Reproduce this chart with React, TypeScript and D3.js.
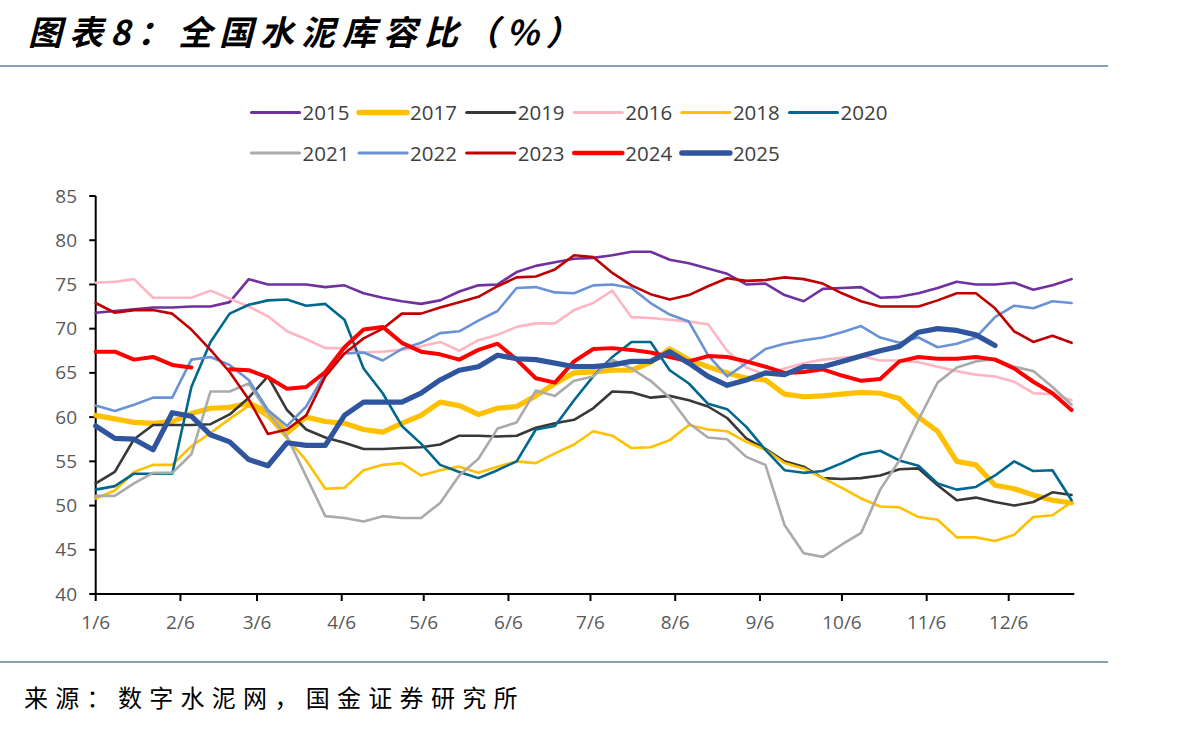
import React from "react";
import * as d3 from "d3";

// Weekly cement warehouse capacity ratio (%), one series per year
const v2015 = [71.8, 72.0, 72.2, 72.4, 72.4, 72.5, 72.5, 73.0, 75.6, 75.0, 75.0, 75.0, 74.7, 74.9, 74.0, 73.5, 73.1, 72.8, 73.2, 74.2, 74.9, 75.0, 76.4, 77.1, 77.5, 77.9, 78.0, 78.3, 78.7, 78.7, 77.8, 77.4, 76.8, 76.2, 75.0, 75.1, 73.8, 73.1, 74.5, 74.6, 74.7, 73.5, 73.6, 74.0, 74.6, 75.3, 75.0, 75.0, 75.2, 74.4, 74.9, 75.6];
const v2017 = [60.2, 59.8, 59.4, 59.3, 59.5, 60.4, 61.0, 61.1, 61.6, 60.6, 58.2, 60.0, 59.5, 59.3, 58.6, 58.3, 59.3, 60.2, 61.7, 61.3, 60.3, 61.0, 61.2, 62.4, 63.8, 65.0, 65.1, 65.3, 65.3, 66.2, 67.7, 66.5, 65.7, 65.0, 64.4, 64.2, 62.6, 62.3, 62.4, 62.6, 62.8, 62.7, 62.1, 60.0, 58.4, 55.0, 54.6, 52.3, 51.9, 51.2, 50.6, 50.3];
const v2019 = [52.5, 53.8, 57.5, 59.1, 59.1, 59.1, 59.2, 60.3, 62.2, 64.6, 60.8, 58.6, 57.7, 57.1, 56.4, 56.4, 56.5, 56.6, 56.9, 57.9, 57.9, 57.8, 57.9, 58.8, 59.3, 59.7, 61.0, 62.9, 62.8, 62.2, 62.4, 61.9, 61.2, 59.9, 57.6, 56.4, 55.0, 54.4, 53.1, 53.0, 53.1, 53.4, 54.1, 54.2, 52.3, 50.6, 50.9, 50.4, 50.0, 50.4, 51.5, 51.2];
const v2016 = [75.2, 75.3, 75.6, 73.5, 73.5, 73.5, 74.3, 73.4, 72.5, 71.4, 69.7, 68.8, 67.8, 67.8, 67.3, 67.4, 67.6, 68.0, 68.5, 67.5, 68.7, 69.3, 70.2, 70.6, 70.6, 72.1, 72.9, 74.3, 71.3, 71.2, 71.0, 70.8, 70.5, 67.5, 65.6, 64.8, 65.5, 66.1, 66.5, 66.7, 66.9, 66.4, 66.4, 66.2, 65.7, 65.2, 64.8, 64.6, 64.0, 62.7, 62.6, 61.9];
const v2018 = [50.8, 51.7, 53.8, 54.6, 54.6, 56.7, 58.2, 59.8, 61.3, 60.0, 57.6, 55.1, 51.9, 52.0, 54.0, 54.6, 54.8, 53.4, 54.0, 54.4, 53.7, 54.4, 55.0, 54.8, 55.9, 56.9, 58.4, 57.9, 56.5, 56.6, 57.4, 59.1, 58.6, 58.4, 57.2, 56.3, 54.8, 54.2, 53.1, 52.0, 50.8, 49.9, 49.8, 48.7, 48.4, 46.4, 46.4, 46.0, 46.7, 48.7, 48.9, 50.4];
const v2020 = [51.8, 52.2, 53.6, 53.6, 53.6, 63.4, 68.5, 71.7, 72.7, 73.2, 73.3, 72.6, 72.8, 71.0, 65.5, 62.7, 59.0, 57.0, 54.6, 53.8, 53.1, 54.0, 55.0, 58.6, 59.0, 61.9, 64.6, 66.8, 68.5, 68.5, 65.3, 63.8, 61.5, 60.9, 58.9, 56.3, 54.0, 53.7, 53.9, 54.8, 55.8, 56.2, 55.1, 54.5, 52.5, 51.8, 52.1, 53.4, 55.0, 53.9, 54.0, 50.6];
const v2021 = [51.1, 51.1, 52.5, 53.7, 53.7, 55.8, 62.9, 62.9, 63.8, 60.5, 57.8, 53.3, 48.8, 48.6, 48.2, 48.8, 48.6, 48.6, 50.3, 53.4, 55.3, 58.7, 59.4, 63.0, 62.4, 64.1, 64.6, 66.5, 65.5, 64.1, 62.2, 59.3, 57.7, 57.5, 55.5, 54.6, 47.8, 44.6, 44.2, 45.6, 46.9, 51.8, 55.1, 59.7, 63.9, 65.6, 66.3, 66.6, 65.7, 65.2, 63.4, 61.4];
const v2022 = [61.3, 60.7, 61.4, 62.2, 62.2, 66.5, 66.8, 65.9, 64.2, 60.8, 59.0, 61.2, 65.0, 67.2, 67.3, 66.4, 67.7, 68.4, 69.5, 69.7, 70.9, 72.0, 74.6, 74.7, 74.1, 74.0, 74.9, 75.0, 74.6, 72.9, 71.6, 70.8, 67.0, 64.6, 66.1, 67.7, 68.3, 68.7, 69.0, 69.6, 70.3, 69.0, 68.4, 69.0, 67.9, 68.3, 69.0, 71.3, 72.6, 72.3, 73.1, 72.9];
const v2023 = [72.9, 71.8, 72.1, 72.1, 71.7, 69.9, 67.6, 65.1, 62.0, 58.1, 58.6, 60.2, 64.6, 67.2, 68.9, 70.0, 71.7, 71.7, 72.4, 73.0, 73.6, 74.8, 75.8, 75.9, 76.7, 78.3, 78.1, 76.3, 74.9, 73.9, 73.3, 73.8, 74.8, 75.7, 75.4, 75.5, 75.8, 75.6, 75.1, 74.0, 73.1, 72.5, 72.5, 72.5, 73.2, 74.0, 74.0, 72.3, 69.7, 68.5, 69.2, 68.4];
const v2024 = [67.4, 67.4, 66.5, 66.8, 65.9, 65.6, null, 65.4, 65.3, 64.5, 63.2, 63.4, 65.1, 67.9, 69.9, 70.2, 68.4, 67.4, 67.1, 66.5, 67.6, 68.3, 66.5, 64.4, 63.9, 66.3, 67.7, 67.8, 67.6, 67.3, 66.8, 66.3, 66.9, 66.8, 66.3, 65.7, 65.0, 65.1, 65.4, 64.7, 64.1, 64.3, 66.3, 66.8, 66.6, 66.6, 66.8, 66.5, 65.5, 64.0, 62.7, 60.8];
const v2025 = [59.0, 57.6, 57.5, 56.3, 60.5, 60.1, 58.0, 57.2, 55.2, 54.5, 57.1, 56.8, 56.8, 60.2, 61.7, 61.7, 61.7, 62.7, 64.2, 65.3, 65.7, 67.0, 66.6, 66.5, 66.1, 65.7, 65.7, 65.9, 66.3, 66.3, 67.4, 66.1, 64.6, 63.6, 64.2, 65.0, 64.8, 65.7, 65.7, 66.3, 66.9, 67.5, 68.0, 69.6, 70.0, 69.8, 69.3, 68.1];

const YEARS = ["2015", "2017", "2019", "2016", "2018", "2020", "2021", "2022", "2023", "2024", "2025"];
const VALUES: (number | null)[][] = [v2015, v2017, v2019, v2016, v2018, v2020, v2021, v2022, v2023, v2024, v2025];

const X_TICK_LABELS = ["1/6", "2/6", "3/6", "4/6", "5/6", "6/6", "7/6", "8/6", "9/6", "10/6", "11/6", "12/6"];
const Y_TICKS = [40, 45, 50, 55, 60, 65, 70, 75, 80, 85];

// Line colours and widths per year
const COLORS: Record<string, string> = {
  "2015": "#7030A0",
  "2017": "#FFC000",
  "2019": "#383838",
  "2016": "#FFB5C2",
  "2018": "#FFC000",
  "2020": "#00688F",
  "2021": "#AAAAAA",
  "2022": "#6A93D6",
  "2023": "#C00000",
  "2024": "#FF0000",
  "2025": "#2F559E",
};
const WIDTHS: Record<string, number> = {
  "2015": 2.6, "2017": 5.2, "2019": 2.6, "2016": 2.6, "2018": 2.6, "2020": 2.6,
  "2021": 2.6, "2022": 2.6, "2023": 2.6, "2024": 4, "2025": 5.2,
};

const W = 1198;
const H = 732;
const PLOT = { left: 95.7, right: 1074.3, top: 196, bottom: 594 };

const year = 2025;
const utc = (m: number, d: number) => new Date(Date.UTC(year, m - 1, d));
const firstWeek = utc(1, 6);
const weekDates = d3.range(52).map((i) => d3.utcDay.offset(firstWeek, i * 7));
const tickDates = X_TICK_LABELS.map((s) => {
  const [m, d] = s.split("/").map(Number);
  return utc(m, d);
});

export default function App() {
  const x = d3.scaleUtc().domain([utc(1, 6), utc(12, 30)]).range([PLOT.left, PLOT.right]);
  const y = d3.scaleLinear().domain([40, 85]).range([PLOT.bottom, PLOT.top]);

  const line = d3
    .line<number | null>()
    .defined((v) => v != null)
    .x((_, i) => x(weekDates[i]))
    .y((v) => y(v as number));

  const axisColor = "#000000";
  const tickFont = "'Open Sans', 'Noto Sans', sans-serif";

  return (
    <svg
      width={W}
      height={H}
      viewBox={`0 0 ${W} ${H}`}
      style={{ position: "absolute", left: 0, top: 0, display: "block", background: "#fff" }}
    >
      <rect x={0} y={0} width={W} height={H} fill="#ffffff" />

      {/* Title */}
      <text
        x={28}
        y={45}
        fontFamily="'Noto Sans CJK SC', sans-serif"
        fontWeight={700}
        fontStyle="italic"
        fontSize={34}
        letterSpacing={7}
        fill="#000"
      >
        图表8：全国水泥库容比（%）
      </text>
      <line x1={0} x2={1108} y1={66} y2={66} stroke="#5E8295" strokeWidth={1.5} />

      {/* Legend */}
      {YEARS.map((yr, i) => {
        const row = i < 6 ? 0 : 1;
        const col = i < 6 ? i : i - 6;
        const lx = 251.5 + col * 107.6;
        const ly = row === 0 ? 112.5 : 153;
        return (
          <g key={yr}>
            <line
              x1={lx}
              x2={lx + 48}
              y1={ly}
              y2={ly}
              stroke={COLORS[yr]}
              strokeWidth={Math.min(WIDTHS[yr] + 0.6, 5.5)}
              strokeLinecap="round"
            />
            <text x={lx + 51} y={ly + 7.5} fontFamily={tickFont} fontSize={20.5} fill="#404040">
              {yr}
            </text>
          </g>
        );
      })}

      {/* Y axis */}
      <line x1={PLOT.left} x2={PLOT.left} y1={PLOT.top} y2={PLOT.bottom} stroke={axisColor} strokeWidth={2} />
      {Y_TICKS.map((t) => (
        <g key={t}>
          <line x1={PLOT.left - 6.5} x2={PLOT.left} y1={y(t)} y2={y(t)} stroke={axisColor} strokeWidth={2} />
          <text
            x={77}
            y={y(t) + 6.5}
            textAnchor="end"
            fontFamily={tickFont}
            fontSize={19}
            fill="#595959"
          >
            {t}
          </text>
        </g>
      ))}

      {/* X axis */}
      <line x1={PLOT.left} x2={PLOT.right} y1={PLOT.bottom} y2={PLOT.bottom} stroke={axisColor} strokeWidth={2} />
      {tickDates.map((d, i) => (
        <g key={X_TICK_LABELS[i]}>
          <line x1={x(d)} x2={x(d)} y1={PLOT.bottom} y2={PLOT.bottom + 7} stroke={axisColor} strokeWidth={2} />
          <text
            x={x(d)}
            y={629}
            textAnchor="middle"
            fontFamily={tickFont}
            fontSize={19}
            fill="#595959"
          >
            {X_TICK_LABELS[i]}
          </text>
        </g>
      ))}

      {/* Series */}
      {YEARS.map((yr, i) => (
        <path
          key={yr}
          d={line(VALUES[i]) ?? ""}
          fill="none"
          stroke={COLORS[yr]}
          strokeWidth={WIDTHS[yr]}
          strokeLinejoin="round"
          strokeLinecap="round"
        />
      ))}

      {/* Source */}
      <line x1={0} x2={1108} y1={662} y2={662} stroke="#5E8295" strokeWidth={1.5} />
      <text
        x={24}
        y={707}
        fontFamily="'Noto Sans CJK SC', serif"
        fontWeight={400}
        fontSize={24}
        letterSpacing={7.3}
        fill="#000"
      >
        来源：数字水泥网，国金证券研究所
      </text>
    </svg>
  );
}
